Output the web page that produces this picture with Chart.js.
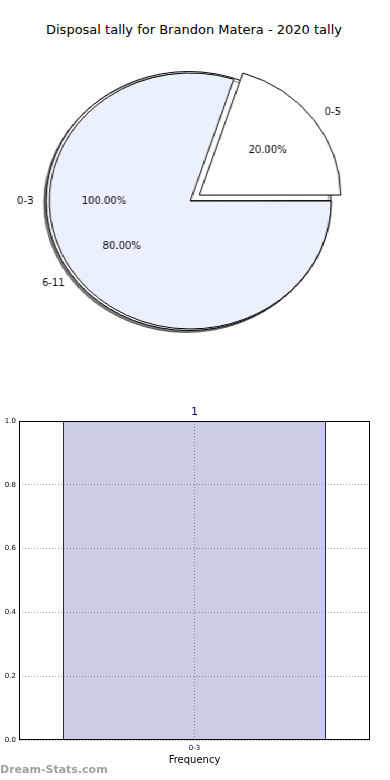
<!DOCTYPE html>
<html><head><meta charset="utf-8">
<script src="https://cdn.jsdelivr.net/npm/chart.js@4/dist/chart.umd.min.js"></script>
<style>
html,body{margin:0;padding:0;background:#fff;width:390px;height:780px;overflow:hidden;font-family:"DejaVu Sans",sans-serif;}
#title{position:absolute;left:0;top:22px;width:388px;text-align:center;font-size:13px;color:#000;white-space:nowrap;}
#pieWrap{position:absolute;left:2.73px;top:51px;width:340px;height:300px;transform:scaleX(1.1016);transform-origin:0 0;}
#pieWrap canvas{position:absolute;left:0;top:0;}
#barWrap{position:absolute;left:0;top:390px;width:390px;height:390px;}
#wm{position:absolute;left:0;top:763px;font:bold 11px "DejaVu Sans",sans-serif;color:#a0a0a0;}
</style>
</head><body>
<div id="title">Disposal tally for Brandon Matera - 2020 tally</div>
<div id="pieWrap">
  <canvas id="pieBase" width="340" height="300"></canvas>
  <canvas id="pieTop" width="340" height="300"></canvas>
</div>
<div id="barWrap"><canvas id="bar" width="390" height="390"></canvas></div>
<div id="wm">Dream-Stats.com</div>
<script>
// ---- data ----
const baseCategories = ['0-3'];
const baseValues = [1];
const pieCategories = ['0-5', '6-11'];
const pieValues = [20, 80];
const barCategories = ['0-3'];
const barValues = [1];
const yTickValues = [0, 0.2, 0.4, 0.6, 0.8, 1.0];

const SX = 1.1016;

function drawText(ctx, t, x, y, align) {
  ctx.save();
  ctx.translate(x, y);
  ctx.scale(1 / SX, 1);
  ctx.font = '10px "DejaVu Sans"';
  ctx.fillStyle = '#000';
  ctx.textAlign = align;
  ctx.textBaseline = 'middle';
  ctx.fillText(t, 0, 0);
  ctx.restore();
}

function labelChart(ctx, chart) {
  const meta = chart.getDatasetMeta(0);
  const ds = chart.data.datasets[0];
  const total = ds.data.reduce((a, b) => a + b, 0);
  meta.data.forEach((arc, i) => {
    const p = arc.getProps(['x', 'y', 'startAngle', 'endAngle', 'outerRadius'], true);
    const mid = (p.startAngle + p.endAngle) / 2;
    const off = (arc.options.offset || 0) / 4;
    const cx = p.x + Math.cos(mid) * off, cy = p.y + Math.sin(mid) * off;
    const R = p.outerRadius;
    const lx = cx + Math.cos(mid) * R * 1.1, ly = cy + Math.sin(mid) * R * 1.1;
    drawText(ctx, chart.data.labels[i], lx, ly, Math.cos(mid) < 0 ? 'right' : 'left');
    const px = cx + Math.cos(mid) * R * 0.6, py = cy + Math.sin(mid) * R * 0.6;
    drawText(ctx, (ds.data[i] / total * 100).toFixed(2) + '%', px, py, 'center');
  });
}

let baseChart = null;
const pieLabels = {
  id: 'pieLabels',
  afterDraw(chart) {
    if (baseChart) labelChart(chart.ctx, baseChart);
    labelChart(chart.ctx, chart);
  }
};

const shadow = {
  id: 'shadow',
  beforeDatasetsDraw(chart) {
    const ctx = chart.ctx;
    ctx.save();
    ctx.shadowColor = 'rgba(0,0,0,0.5)';
    ctx.shadowOffsetX = -2;
    ctx.shadowOffsetY = 2;
    ctx.shadowBlur = 0.5;
  },
  afterDatasetsDraw(chart) { chart.ctx.restore(); }
};

const pieCommon = {
  responsive: false,
  animation: false,
  devicePixelRatio: 1,
  events: [],
  layout: { padding: 0 },
  plugins: { legend: { display: false }, tooltip: { enabled: false } }
};

baseChart = new Chart(document.getElementById('pieBase'), {
  type: 'pie',
  data: {
    labels: baseCategories,
    datasets: [{
      data: baseValues,
      backgroundColor: ['#ffffff'],
      borderColor: '#000',
      borderWidth: 1,
      offset: [6],
      radius: 128,
      rotation: 90
    }]
  },
  options: pieCommon,
  plugins: [shadow]
});

new Chart(document.getElementById('pieTop'), {
  type: 'pie',
  data: {
    labels: pieCategories,
    datasets: [{
      data: pieValues,
      backgroundColor: ['#ffffff', '#eaf0fd'],
      borderColor: '#000',
      borderWidth: 1,
      offset: [40, 0],
      radius: 128,
      rotation: 18
    }]
  },
  options: pieCommon,
  plugins: [pieLabels]
});

// ---- bar chart ----
const frame = {
  id: 'frame',
  afterDatasetsDraw(chart) {
    const { ctx, chartArea: a } = chart;
    ctx.save();
    ctx.strokeStyle = '#000';
    ctx.lineWidth = 1;
    ctx.strokeRect(Math.round(a.left) + 0.5, Math.round(a.top) + 0.5, Math.round(a.right - a.left) - 1, Math.round(a.bottom - a.top) - 1);
    ctx.restore();
  },
  afterDraw(chart) {
    const { ctx } = chart;
    const meta = chart.getDatasetMeta(0);
    const ds = chart.data.datasets[0];
    ctx.save();
    ctx.fillStyle = '#000080';
    ctx.font = '11px "DejaVu Sans"';
    ctx.textAlign = 'center';
    ctx.textBaseline = 'bottom';
    meta.data.forEach((bar, i) => {
      ctx.fillText(String(ds.data[i]), bar.x, bar.y - 3);
    });
    ctx.restore();
  }
};

new Chart(document.getElementById('bar'), {
  type: 'bar',
  data: {
    labels: barCategories,
    datasets: [{
      data: barValues,
      backgroundColor: 'rgba(0,0,128,0.2)',
      borderColor: '#000080',
      borderWidth: 1,
      borderSkipped: 'bottom',
      categoryPercentage: 1,
      barPercentage: 0.75
    }]
  },
  options: {
    responsive: false,
    animation: false,
    devicePixelRatio: 1,
    events: [],
    layout: { padding: { left: 0, right: 20, top: 31, bottom: 0 } },
    plugins: { legend: { display: false }, tooltip: { enabled: false } },
    scales: {
      x: {
        offset: true,
        border: { display: false, dash: [1, 2] },
        grid: { offset: false, color: '#a8a8a8', lineWidth: 1, drawTicks: false },
        ticks: { font: { family: 'DejaVu Sans', size: 7 }, color: '#000', padding: 4 },
        title: { display: true, text: 'Frequency', font: { family: 'DejaVu Sans', size: 10 }, color: '#000', padding: { top: 0, bottom: 14 } },
        afterFit(s) { s.height = 40; }
      },
      y: {
        min: 0, max: 1,
        border: { display: false, dash: [1, 2] },
        grid: { color: '#a8a8a8', lineWidth: 1, drawTicks: false },
        afterBuildTicks(s) { s.ticks = yTickValues.map(v => ({ value: v })); },
        ticks: { font: { family: 'DejaVu Sans', size: 7 }, color: '#000', padding: 3, callback: v => Number(v).toFixed(1) },
        afterFit(s) { s.width = 19; }
      }
    }
  },
  plugins: [frame]
});
</script>
</body></html>
